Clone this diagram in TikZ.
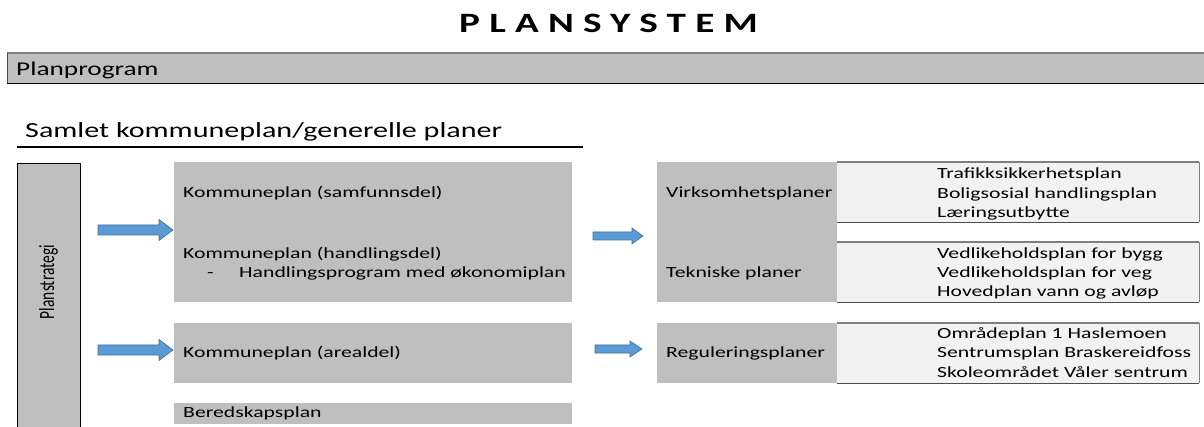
\documentclass[tikz,border=0pt]{standalone}
\usepackage{fontspec}
\usepackage{graphicx}
\setmainfont{Carlito}[FakeStretch=1.4]
\newfontfamily\plainfont{Carlito}
\definecolor{boxgray}{HTML}{BFBFBF}
\definecolor{cellgray}{HTML}{F2F2F2}
\definecolor{arrowblue}{HTML}{5B9BD5}
\definecolor{arrowedge}{HTML}{41719C}
\definecolor{linegray}{HTML}{7F7F7F}
\definecolor{linedark}{HTML}{4D4D4D}
\tikzset{
  graybox/.style={fill=boxgray, draw=none, anchor=north west, inner sep=0pt},
  cellbox/.style={fill=cellgray, draw=none, anchor=north west, inner sep=0pt, minimum width=362pt},
  txt/.style={anchor=mid west, inner sep=0pt, yshift=-3.5pt, font=\fontsize{15.5}{19.5}\selectfont},
  blockarrow/.style={fill=arrowblue, draw=arrowedge, line width=0.6pt, line join=miter},
  celltop/.style={draw=linegray, line width=1.4pt},
  cellbot/.style={draw=linedark, line width=1.4pt},
}
\begin{document}
\begin{tikzpicture}[x=1pt,y=-1pt]
\useasboundingbox (0,0) rectangle (1204,427);
\fill[white] (0,0) rectangle (1204,427);

% title
\node[anchor=base west, inner sep=0pt, font=\fontsize{28}{30}\selectfont\bfseries\addfontfeatures{LetterSpace=33}] (title) at (459,33) {PLANSYSTEM};

% Planprogram bar
\node[graybox, minimum width=1197pt, minimum height=30pt] (pp) at (7,53) {};
\draw[linegray, line width=2pt] (pp.north west) -- (pp.north east);
\draw[black, line width=1pt] (pp.south west) -- (pp.south east);
\draw[linedark, line width=1pt] (pp.north west) -- (pp.south west);
\node[anchor=mid west, inner sep=0pt, yshift=-5pt, font=\fontsize{19.5}{22}\selectfont] (pptxt) at (16,68) {Planprogram};

% heading
\node[anchor=mid west, inner sep=0pt, yshift=-5pt, font=\fontsize{21.5}{24}\selectfont] (head) at (25,130) {Samlet kommuneplan/generelle planer};
\coordinate (ulA) at (17,147);
\coordinate (ulB) at (583,147);
\draw[black, line width=2pt] (ulA) -- (ulB);

% Planstrategi
\node[fill=boxgray, draw=black, line width=1.2pt, anchor=north west, inner sep=0pt, minimum width=63pt, minimum height=280pt] (psbox) at (17,163) {};
\node[rotate=90, inner sep=0pt] (pstxt) at (48.5,282) {\plainfont\fontsize{15.5}{18}\selectfont\scalebox{1}[1.4]{Planstrategi}};

% left column boxes
\node[graybox, minimum width=398pt, minimum height=140pt] (kp1) at (174,162) {};
\node[graybox, minimum width=398pt, minimum height=60pt] (kp2) at (174,323) {};
\node[graybox, minimum width=398pt, minimum height=21pt] (kp3) at (174,403) {};
\node[txt] (t1) at (183,192) {Kommuneplan (samfunnsdel)};
\node[txt] (t2) at (183,253) {Kommuneplan (handlingsdel)};
\node[txt] (t3a) at (207,272) {-};
\node[txt] (t3) at (239,272) {Handlingsprogram med økonomiplan};
\node[txt] (t4) at (183,352) {Kommuneplan (arealdel)};
\node[txt] (t5) at (183,412) {Beredskapsplan};

% middle boxes
\node[graybox, minimum width=180pt, minimum height=140pt] (vp) at (657,162) {};
\node[graybox, minimum width=180pt, minimum height=60pt] (rp) at (657,323) {};
\node[txt] (vptxt) at (666,192) {Virksomhetsplaner};
\node[txt] (tptxt) at (666,272) {Tekniske planer};
\node[txt] (rptxt) at (666,352) {Reguleringsplaner};

% right cells
\node[cellbox, minimum height=60pt] (c1) at (837,162) {};
\node[cellbox, minimum height=60pt] (c2) at (837,242) {};
\node[cellbox, minimum height=60pt] (c3) at (837,323) {};
\foreach \c in {c1,c2,c3}{
  \draw[celltop] (\c.north west) -- (\c.north east);
  \draw[cellbot] (\c.south west) -- (\c.south east);
  \draw[linegray, line width=1pt] (\c.north east) -- (\c.south east);
}
\node[txt] (l1) at (937,173) {Trafikksikkerhetsplan};
\node[txt] (l2) at (937,193) {Boligsosial handlingsplan};
\node[txt] (l3) at (937,212) {Læringsutbytte};
\node[txt] (l4) at (937,253) {Vedlikeholdsplan for bygg};
\node[txt] (l5) at (937,272) {Vedlikeholdsplan for veg};
\node[txt] (l6) at (937,291) {Hovedplan vann og avløp};
\node[txt] (l7) at (937,333) {Områdeplan 1 Haslemoen};
\node[txt] (l8) at (937,352) {Sentrumsplan Braskereidfoss};
\node[txt] (l9) at (937,372) {Skoleområdet Våler sentrum};

% block arrows
\draw[blockarrow] (98,225) -- (159,225) -- (159,219.5) -- (173,230) -- (159,240.5) -- (159,235) -- (98,235) -- cycle;
\draw[blockarrow] (98,345) -- (159,345) -- (159,339.5) -- (173,350) -- (159,360.5) -- (159,355) -- (98,355) -- cycle;
\draw[blockarrow] (593,232) -- (632,232) -- (632,228) -- (643,236) -- (632,244) -- (632,240) -- (593,240) -- cycle;
\draw[blockarrow] (595,345) -- (630,345) -- (630,341) -- (642,349) -- (630,357) -- (630,353) -- (595,353) -- cycle;
\end{tikzpicture}
\end{document}
